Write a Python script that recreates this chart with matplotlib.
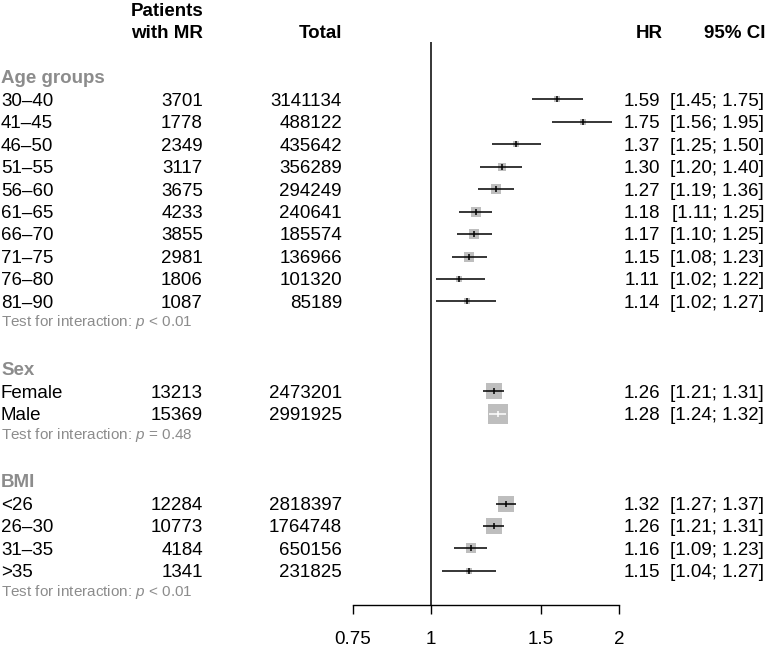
import numpy as np
import matplotlib.pyplot as plt
from matplotlib import transforms

plt.rcParams['font.family'] = ['Liberation Sans', 'DejaVu Sans']
plt.rcParams['mathtext.fontset'] = 'custom'
plt.rcParams['mathtext.it'] = 'Liberation Sans:italic'
plt.rcParams['mathtext.rm'] = 'Liberation Sans'

# data
groups = ['Age groups', 'Sex', 'BMI']
labels = [['30\u201340', '41\u201345', '46\u201350', '51\u201355', '56\u201360',
           '61\u201365', '66\u201370', '71\u201375', '76\u201380', '81\u201390'],
          ['Female', 'Male'],
          ['<26', '26\u201330', '31\u201335', '>35']]
patients = [[3701, 1778, 2349, 3117, 3675, 4233, 3855, 2981, 1806, 1087],
            [13213, 15369],
            [12284, 10773, 4184, 1341]]
totals = [[3141134, 488122, 435642, 356289, 294249, 240641, 185574, 136966, 101320, 85189],
          [2473201, 2991925],
          [2818397, 1764748, 650156, 231825]]
hr = [[1.59, 1.75, 1.37, 1.30, 1.27, 1.18, 1.17, 1.15, 1.11, 1.14],
      [1.26, 1.28],
      [1.32, 1.26, 1.16, 1.15]]
lower = [[1.45, 1.56, 1.25, 1.20, 1.19, 1.11, 1.10, 1.08, 1.02, 1.02],
         [1.21, 1.24],
         [1.27, 1.21, 1.09, 1.04]]
upper = [[1.75, 1.95, 1.50, 1.40, 1.36, 1.25, 1.25, 1.23, 1.22, 1.27],
         [1.31, 1.32],
         [1.37, 1.31, 1.23, 1.27]]
p_text = ['$p$ < 0.01', '$p$ = 0.48', '$p$ < 0.01']
xticks = [0.75, 1, 1.5, 2]

W, H = 768, 649
row_h = 22.45
y0 = 77  # pixel of first row

fig = plt.figure(figsize=(W / 100, H / 100), dpi=100)
ax = fig.add_axes([353 / W, 0, 266 / W, 1])
ax.set_xscale('log')
ax.set_xlim(0.75, 2)
ax.set_ylim((H - y0) / row_h, -y0 / row_h)
ax.set_facecolor('none')

tr = transforms.blended_transform_factory(fig.transFigure, ax.transData)
fs = 13.5
grey = '#8c8c8c'
box_col = '#bebebe'
px_per_ln = 266 / np.log(2 / 0.75)
dy = 0.08  # text sits a touch lower than the marks

def txt(xpx, row, s, ha='left', **kw):
    ax.text(xpx / W, row + dy, s, ha=ha, va='center', transform=tr,
            fontsize=kw.pop('size', fs), **kw)

# header
txt(203, -3, 'Patients', ha='right', fontweight='bold')
txt(203, -2, 'with MR', ha='right', fontweight='bold')
txt(342, -2, 'Total', ha='right', fontweight='bold')
txt(663, -2, 'HR', ha='right', fontweight='bold')
txt(766, -2, '95% CI', ha='right', fontweight='bold')

row = 0
for g in range(len(groups)):
    txt(1, row, groups[g], fontweight='bold', color=grey)
    row += 1
    for i in range(len(labels[g])):
        est, lo, hi = hr[g][i], lower[g][i], upper[g][i]
        txt(1, row, labels[g][i])
        txt(203, row, str(patients[g][i]), ha='right')
        txt(342, row, str(totals[g][i]), ha='right')
        txt(660, row, f'{est:.2f}', ha='right')
        txt(764, row, f'[{lo:.2f}; {hi:.2f}]', ha='right')

        side = 1.25 / np.log(hi / lo)  # box side in px, ~ 1/se
        half = side / 2 / px_per_ln
        inside = lo >= est * np.exp(-half) and hi <= est * np.exp(half)
        lc = 'white' if inside else 'black'
        ax.scatter([est], [row], marker='s', s=(side * 0.72) ** 2, color=box_col,
                   linewidths=0, zorder=2)
        ax.hlines(row, lo, hi, color=lc, lw=1.1, zorder=3)
        ax.scatter([est], [row], marker='|', s=25, color=lc, linewidths=1.1, zorder=4)
        row += 1
    txt(1, row - 0.15, 'Test for interaction: ' + p_text[g], size=11, color=grey)
    row += 2

axis_row = (605 - y0) / row_h
ax.vlines(1, (42 - y0) / row_h, axis_row, color='black', lw=1.1)

for s in ['top', 'left', 'right']:
    ax.spines[s].set_visible(False)
ax.spines['bottom'].set_position(('data', axis_row))
ax.spines['bottom'].set_linewidth(1.0)
ax.set_xticks(xticks, labels=[str(t) for t in xticks])
ax.minorticks_off()
ax.tick_params(axis='x', length=6.5, width=1.0, pad=12, labelsize=fs)
ax.set_yticks([])

fig.savefig('out.png', dpi=100)
